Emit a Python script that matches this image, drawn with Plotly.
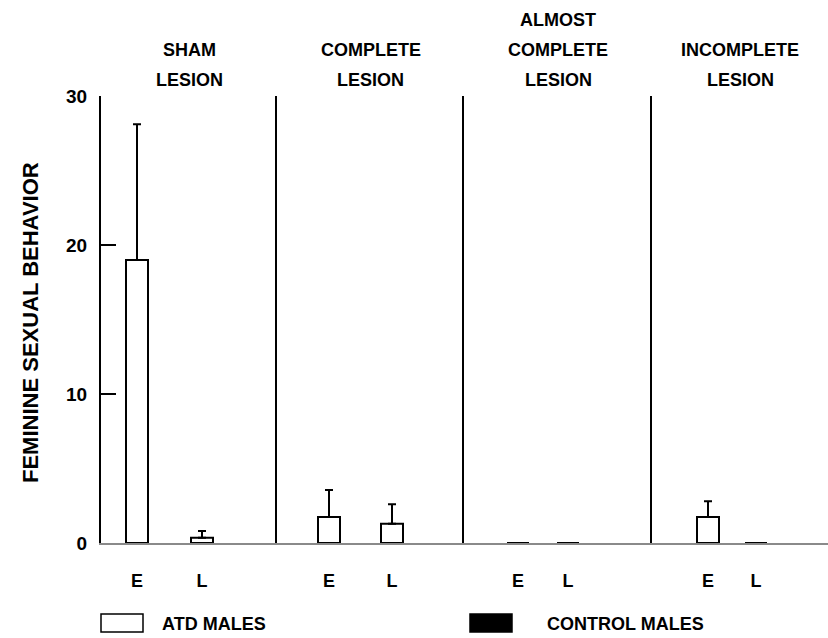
import plotly.graph_objects as go

# ---------------- data ----------------
groups = ["SHAM LESION", "COMPLETE LESION", "ALMOST COMPLETE LESION", "INCOMPLETE LESION"]
header_lines = [["SHAM", "LESION"], ["COMPLETE", "LESION"],
                ["ALMOST", "COMPLETE", "LESION"], ["INCOMPLETE", "LESION"]]
tests = ["E", "L"]
atd_means = [[19.0, 0.35], [1.75, 1.3], [0.0, 0.0], [1.75, 0.0]]
atd_errs = [[9.1, 0.45], [1.8, 1.3], [0.0, 0.0], [1.05, 0.0]]
control_means = [[0.0, 0.0], [0.0, 0.0], [0.0, 0.0], [0.0, 0.0]]
control_errs = [[0.0, 0.0], [0.0, 0.0], [0.0, 0.0], [0.0, 0.0]]
y_ticks = [0, 10, 20, 30]
series_names = ["ATD MALES", "CONTROL MALES"]

# ---------------- geometry (layout only) ----------------
W, H = 828, 638
L, R, T, B = 101, 828, 96, 543
PW, PH = R - L, B - T
panel_px = [(101, 277), (277, 464), (464, 652), (652, 828)]
label_px = [(137, 202), (329, 392), (518, 568), (708, 756)]
bar_px = 22
FONT = "Liberation Sans, Arial, sans-serif"


def xp(px):
    return (px - L) / PW


def yp(py):
    return (B - py) / PH


fig = go.Figure()
layout = dict(
    width=W, height=H,
    margin=dict(l=L, r=W - R, t=T, b=H - B, pad=0),
    paper_bgcolor="white", plot_bgcolor="white",
    showlegend=False, bargap=0,
    font=dict(family=FONT, size=18, color="black"),
)

annotations = []
shapes = []

for i in range(4):
    k = "" if i == 0 else str(i + 1)
    left, right = panel_px[i]
    e_px, l_px = label_px[i]
    ppu = l_px - e_px
    a = -(e_px - left) / ppu
    b = a + (right - left) / ppu
    w = bar_px / ppu

    fig.add_trace(go.Bar(
        x=tests, y=atd_means[i], name=series_names[0],
        width=w, offset=-w / 2,
        marker=dict(color="white", line=dict(color="black", width=2)),
        error_y=dict(type="data", array=atd_errs[i], arrayminus=[0, 0], symmetric=False,
                     color="black", thickness=2, width=4),
        xaxis="x" + k, yaxis="y" + k, cliponaxis=False,
    ))
    fig.add_trace(go.Bar(
        x=tests, y=control_means[i], name=series_names[1],
        width=w, offset=w / 2,
        marker=dict(color="black", line=dict(color="black", width=0)),
        error_y=dict(type="data", array=control_errs[i], arrayminus=[0, 0], symmetric=False,
                     color="black", thickness=2, width=4, visible=False),
        xaxis="x" + k, yaxis="y" + k, cliponaxis=False,
    ))

    layout["xaxis" + k] = dict(
        domain=[xp(left), xp(right)], anchor="y" + k,
        type="category", categoryorder="array", categoryarray=tests,
        range=[a, b], showline=True, linecolor="#8a8a8a", linewidth=2,
        ticks="", ticklabelstandoff=20, showgrid=False, zeroline=False,
        tickfont=dict(family=FONT, size=18, weight="bold"), fixedrange=True,
    )
    layout["yaxis" + k] = dict(
        domain=[0, 1], anchor="x" + k, range=[0, 30],
        showline=True, linecolor="black", linewidth=2,
        ticks="inside", tickcolor="black", tickwidth=1.5,
        tickvals=y_ticks if i == 0 else [30],
        ticklen=15 if i == 0 else 8,
        showticklabels=(i == 0), ticklabelstandoff=8,
        tickfont=dict(family=FONT, size=19, weight="bold"),
        showgrid=False, zeroline=False, fixedrange=True,
    )

    # panel headers
    cx = (xp(left) + xp(right)) / 2
    lines = header_lines[i]
    for j, line in enumerate(reversed(lines)):
        annotations.append(dict(
            text=line, x=cx, y=1, xref="paper", yref="paper",
            xanchor="center", yanchor="middle", yshift=(T - 80) + 30 * j,
            showarrow=False, font=dict(family=FONT, size=18, weight="bold"),
        ))

# y-axis title
annotations.append(dict(
    text="FEMININE SEXUAL BEHAVIOR", x=xp(30), y=yp(323), xref="paper", yref="paper",
    xanchor="center", yanchor="middle", textangle=-90, showarrow=False,
    font=dict(family=FONT, size=22, weight="bold"),
))

# legend (keys + labels)
legend_keys = [(101, 143, "white"), (470, 512, "black")]
legend_text_x = [160, 545]
for (x0, x1, col), tx, name in zip(legend_keys, legend_text_x, series_names):
    shapes.append(dict(type="rect", xref="paper", yref="paper",
                       x0=xp(x0), x1=xp(x1), y0=yp(632), y1=yp(614),
                       fillcolor=col, line=dict(color="black", width=1.5)))
    annotations.append(dict(
        text=name, x=xp(tx), y=yp(624), xref="paper", yref="paper",
        xanchor="left", yanchor="middle", showarrow=False,
        font=dict(family=FONT, size=18, weight="bold"),
    ))

layout["annotations"] = annotations
layout["shapes"] = shapes
fig.update_layout(**layout)
fig.write_html(
    "out.html",
    config={"displayModeBar": False, "staticPlot": True},
    post_script="document.body.style.margin='0';document.body.style.padding='0';",
)
